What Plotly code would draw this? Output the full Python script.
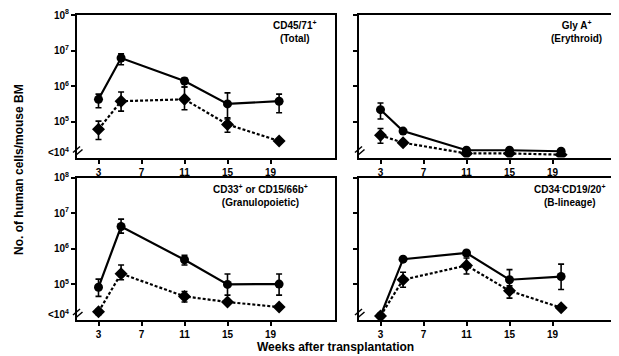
import plotly.graph_objects as go

# page body has an 8px default margin; the figure is sized to fill the rest
OX, OY = 8, 8
W, H = 619 - OX, 356 - OY

weeks = [3, 5.1, 11, 15, 19.8]
x_ticks = [3, 7, 11, 15, 19]
y_tick_vals = [1e5, 1e6, 1e7, 1e8]
y_tick_text = ["10<sup>5</sup>", "10<sup>6</sup>", "10<sup>7</sup>", "10<sup>8</sup>"]
low_label = "<10<sup>4</sup>"

panel_labels = [
    "CD45/71<sup>+</sup><br>(Total)",
    "Gly A<sup>+</sup><br>(Erythroid)",
    "CD33<sup>+</sup> or CD15/66b<sup>+</sup><br>(Granulopoietic)",
    "CD34<sup>-</sup>CD19/20<sup>+</sup><br>(B-lineage)",
]

# solid series (circles): mean, upper, lower
total_solid = [4.3e5, 6.2e6, 1.4e6, 3.2e5, 3.8e5]
total_solid_hi = [6.0e5, 8.1e6, 1.7e6, 6.5e5, 6.0e5]
total_solid_lo = [2.5e5, 4.0e6, 9.5e5, 1.2e5, 1.8e5]
total_dot = [6.2e4, 3.8e5, 4.3e5, 8.5e4, 2.9e4]
total_dot_hi = [1.05e5, 6.9e5, 9.5e5, 1.3e5, 3.2e4]
total_dot_lo = [3.2e4, 2.0e5, 2.2e5, 5.1e4, 2.6e4]

ery_solid = [2.2e5, 5.5e4, 1.6e4, 1.6e4, 1.5e4]
ery_solid_hi = [3.4e5, 6.3e4, 1.75e4, 1.75e4, 1.65e4]
ery_solid_lo = [1.2e5, 4.8e4, 1.45e4, 1.45e4, 1.4e4]
ery_dot = [4.2e4, 2.6e4, 1.3e4, 1.3e4, 1.2e4]
ery_dot_hi = [6.5e4, 3.0e4, 1.35e4, 1.35e4, 1.25e4]
ery_dot_lo = [2.5e4, 2.3e4, 1.25e4, 1.25e4, 1.15e4]

gran_solid = [8.3e4, 4.2e6, 4.9e5, 1.0e5, 1.02e5]
gran_solid_hi = [1.4e5, 6.8e6, 6.5e5, 1.95e5, 1.95e5]
gran_solid_lo = [4.6e4, 2.75e6, 3.5e5, 5.0e4, 5.0e4]
gran_dot = [1.7e4, 2.0e5, 4.6e4, 3.2e4, 2.3e4]
gran_dot_hi = [2.0e4, 3.5e5, 6.3e4, 3.5e4, 2.5e4]
gran_dot_lo = [1.4e4, 1.35e5, 3.2e4, 2.8e4, 2.1e4]

b_solid = [1.3e4, 5.1e5, 7.6e5, 1.35e5, 1.66e5]
b_solid_hi = [1.4e4, 5.9e5, 8.5e5, 2.6e5, 3.7e5]
b_solid_lo = [1.2e4, 4.5e5, 6.8e5, 7.8e4, 7.2e4]
b_dot = [1.3e4, 1.35e5, 3.4e5, 6.6e4, 2.2e4]
b_dot_hi = [1.4e4, 2.2e5, 5.5e5, 9.1e4, 2.45e4]
b_dot_lo = [1.2e4, 8.3e4, 1.95e5, 4.1e4, 2.05e4]

panels = [
    (total_solid, total_solid_hi, total_solid_lo, total_dot, total_dot_hi, total_dot_lo),
    (ery_solid, ery_solid_hi, ery_solid_lo, ery_dot, ery_dot_hi, ery_dot_lo),
    (gran_solid, gran_solid_hi, gran_solid_lo, gran_dot, gran_dot_hi, gran_dot_lo),
    (b_solid, b_solid_hi, b_solid_lo, b_dot, b_dot_hi, b_dot_lo),
]

FONT = "Liberation Sans, Arial, sans-serif"

# pixel layout of panels in the page: (left, right, top, bottom)
boxes = [
    (77, 335, 15, 157.5),
    (359, 617, 15, 157.5),
    (77, 335, 177.5, 320),
    (359, 617, 177.5, 320),
]
label_pos = [(295, 31), (576, 31), (260, 195), (569, 195)]


def px(x):
    return (x - OX) / W


def py(y):
    return 1 - (y - OY) / H


fig = go.Figure()
layout = {}
annotations = []
shapes = []


def err(m, hi, lo):
    return dict(type="data", symmetric=False,
                array=[h - v for v, h in zip(m, hi)],
                arrayminus=[v - l for v, l in zip(m, lo)],
                color="black", thickness=1.6, width=3)


for i, (box, data) in enumerate(zip(boxes, panels)):
    n = "" if i == 0 else str(i + 1)
    xa, ya = "x" + n, "y" + n
    s, shi, slo, d, dhi, dlo = data
    fig.add_trace(go.Scatter(x=weeks, y=d, xaxis=xa, yaxis=ya, mode="lines+markers",
                             line=dict(color="black", width=2.2, dash="3px,2px"),
                             marker=dict(symbol="diamond", size=10, color="black"),
                             error_y=err(d, dhi, dlo), showlegend=False))
    fig.add_trace(go.Scatter(x=weeks, y=s, xaxis=xa, yaxis=ya, mode="lines+markers",
                             line=dict(color="black", width=2.2),
                             marker=dict(symbol="circle", size=9, color="black"),
                             error_y=err(s, shi, slo), showlegend=False))
    l, r, t, b = box
    left = i % 2 == 0
    layout["xaxis" + n] = dict(domain=[px(l), px(r)], anchor=ya, range=[1, 25],
                               automargin=False,
                               tickvals=x_ticks, ticks="outside", ticklen=4, tickwidth=1.5,
                               tickcolor="black", showline=True, linecolor="black",
                               linewidth=2, mirror=True, showgrid=False, zeroline=False,
                               tickfont=dict(family=FONT, size=10, color="black", weight="bold"))
    yax = dict(domain=[py(b), py(t)], anchor=xa, type="log",
               range=[4, 8], tickvals=y_tick_vals, automargin=False,
               showticklabels=left,
               ticks="outside", ticklen=4, tickwidth=1.5, tickcolor="black",
               showline=True, linecolor="black", linewidth=2, mirror=True,
               showgrid=False, zeroline=False,
               tickfont=dict(family=FONT, size=10, color="black", weight="bold"))
    if left:
        yax["ticktext"] = y_tick_text
    layout["yaxis" + n] = yax
    # axis-break marks
    for dx, dy in [(0, 0), (2.5, 3)]:
        shapes.append(dict(type="line", xref="paper", yref="paper",
                           x0=px(l - 4 + dx), y0=py(b - 5 + dy),
                           x1=px(l + 3 + dx), y1=py(b - 11 + dy),
                           line=dict(color="black", width=1.5)))
    if left:
        annotations.append(dict(text=low_label, xref="paper", yref="paper",
                                x=px(l - 6), y=py(b - 6), xanchor="right",
                                yanchor="middle", showarrow=False,
                                font=dict(family=FONT, size=10, color="black", weight="bold")))
    lx, ly = label_pos[i]
    annotations.append(dict(text=panel_labels[i], xref="paper", yref="paper",
                            x=px(lx), y=py(ly), xanchor="center", yanchor="middle",
                            align="center", showarrow=False,
                            font=dict(family=FONT, size=10, color="black", weight="bold")))

annotations.append(dict(text="No. of human cells/mouse BM", xref="paper", yref="paper",
                        x=px(19), y=py(170), textangle=-90, showarrow=False,
                        xanchor="center", yanchor="middle",
                        font=dict(family=FONT, size=12, color="black", weight="bold")))
annotations.append(dict(text="Weeks after transplantation", xref="paper", yref="paper",
                        x=px(335), y=py(347), showarrow=False,
                        xanchor="center", yanchor="middle",
                        font=dict(family=FONT, size=12, color="black", weight="bold")))

fig.update_layout(width=W, height=H, margin=dict(l=0, r=0, t=0, b=0, autoexpand=False),
                  template="none",
                  paper_bgcolor="white", plot_bgcolor="white",
                  annotations=annotations, shapes=shapes, **layout)

fig.write_html("out.html")
